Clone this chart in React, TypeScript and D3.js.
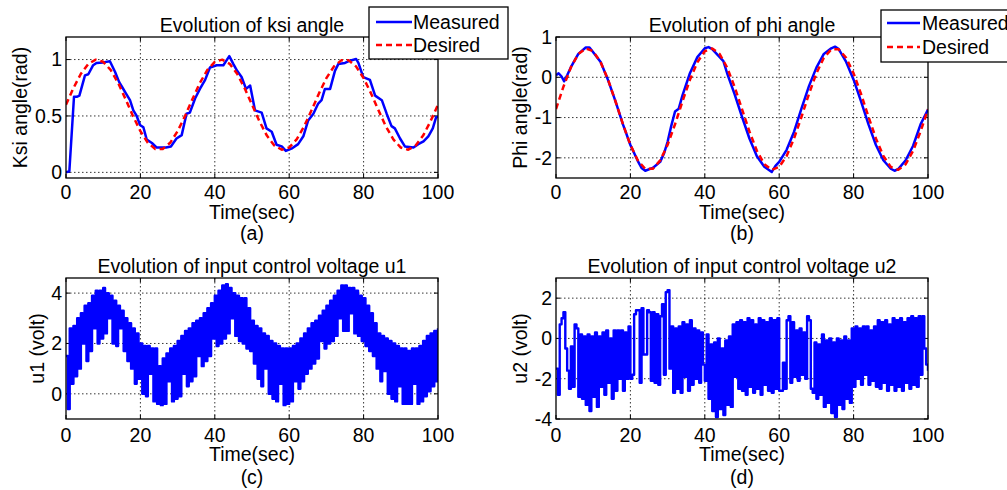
import React from "react";
import * as d3 from "d3";

const timeTicks = [0, 20, 40, 60, 80, 100];

// desired ksi angle, one value every 2 s from t = 0
const ksiDesired = [
  0.6, 0.747, 0.874, 0.962, 0.999, 0.98, 0.908, 0.793, 0.65, 0.5,
  0.365, 0.262, 0.207, 0.207, 0.262, 0.365, 0.5, 0.65, 0.793, 0.908,
  0.98, 0.999, 0.962, 0.874, 0.747, 0.6, 0.453, 0.326, 0.238, 0.201,
  0.22, 0.292, 0.407, 0.55, 0.7, 0.835, 0.938, 0.993, 0.993, 0.938,
  0.835, 0.7, 0.55, 0.407, 0.292, 0.22, 0.201, 0.238, 0.326, 0.453, 0.6
];

// measured ksi angle, [t, rad]
const ksiMeasured: [number, number][] = [
  [0, 0], [0.9, 0.01], [2.15, 0.67], [2.9, 0.67], [3.6, 0.68], [5.1, 0.86], [6, 0.87],
  [7.3, 0.95], [8.2, 0.97], [10, 0.975], [11.8, 0.985], [13.2, 0.89], [14.3, 0.8],
  [15.2, 0.75], [16.1, 0.7], [17.2, 0.64], [18.1, 0.55], [19, 0.5], [19.9, 0.42],
  [20.8, 0.4], [21.7, 0.29], [23.1, 0.26], [24.4, 0.22], [26.9, 0.22], [28.2, 0.23],
  [29.7, 0.3], [31.1, 0.33], [32.4, 0.52], [33.3, 0.53], [34.7, 0.655], [36, 0.74],
  [37.4, 0.82], [38.7, 0.93], [40.5, 0.95], [42.3, 0.95], [43.9, 1.03], [45, 0.96],
  [46, 0.9], [47.2, 0.845], [48.4, 0.74], [49.5, 0.77], [50.8, 0.55], [52.6, 0.53],
  [53.9, 0.39], [55.3, 0.36], [56.6, 0.245], [58, 0.23], [59.1, 0.19], [60.6, 0.21],
  [62.4, 0.25], [63.8, 0.32], [65.1, 0.46], [66.5, 0.52], [67.8, 0.61], [68.7, 0.64],
  [69.6, 0.74], [71, 0.74], [72.3, 0.9], [73.2, 0.96], [75, 0.97], [76.3, 0.99],
  [78, 1.005], [78.6, 0.97], [79.9, 0.845], [81.7, 0.82], [83.1, 0.68], [84.9, 0.64],
  [86.2, 0.52], [87.5, 0.41], [88.4, 0.39], [89.8, 0.3], [91.1, 0.23], [93.4, 0.22],
  [94.7, 0.25], [96.1, 0.275], [97.4, 0.32], [98.6, 0.39], [99.5, 0.49], [100, 0.49]
];

// desired phi angle, one value every 2 s from t = 0
const phiDesired = [
  -0.79, -0.234, 0.244, 0.577, 0.717, 0.646, 0.374, -0.062, -0.601, -1.166,
  -1.678, -2.064, -2.273, -2.273, -2.064, -1.678, -1.166, -0.601, -0.062, 0.374,
  0.646, 0.717, 0.577, 0.244, -0.234, -0.79, -1.346, -1.824, -2.157, -2.297,
  -2.226, -1.954, -1.518, -0.979, -0.414, 0.098, 0.484, 0.693, 0.693, 0.484,
  0.098, -0.414, -0.979, -1.518, -1.954, -2.226, -2.297, -2.157, -1.824, -1.346, -0.79
];

// measured phi angle, [t, rad]
const phiMeasured: [number, number][] = [
  [0, 0.05], [0.7, 0.1], [1.5, 0.02], [2.2, -0.1], [3, 0.05], [4, 0.25], [6, 0.58],
  [8, 0.74], [9, 0.74], [10, 0.62], [12, 0.38], [14, -0.07], [16, -0.6], [18, -1.17],
  [20, -1.68], [22, -2.08], [23, -2.25], [24, -2.32], [26, -2.25], [28, -2.1],
  [29, -1.9], [30, -1.6], [31, -1.2], [32, -0.85], [33, -0.78], [34, -0.45], [36, 0.1],
  [38, 0.5], [40, 0.72], [41, 0.75], [42, 0.7], [44, 0.5], [45, 0.4], [46, 0.1],
  [48, -0.42], [50, -0.98], [52, -1.52], [54, -1.96], [56, -2.22], [58, -2.35],
  [59, -2.2], [60, -2.1], [62, -1.8], [64, -1.35], [66, -0.77], [68, -0.22], [70, 0.24],
  [72, 0.58], [74, 0.72], [75, 0.76], [76, 0.7], [78, 0.38], [80, -0.06], [82, -0.6],
  [84, -1.17], [86, -1.68], [88, -2.06], [90, -2.27], [91, -2.32], [92, -2.28],
  [94, -2.06], [96, -1.7], [98, -1.17], [100, -0.8]
];

// control voltage u1, one value every 0.5 s (held)
const u1 = [
  1.5, -0.6, 2.6, 0.4, 2.7, 0.7, 3.0, 1.0, 3.2, 2.0, 3.5, 1.3, 3.6, 1.7, 3.9, 2.6, 4.1, 2.0, 4.1, 2.2,
  4.2, 2.4, 4.0, 3.0, 3.9, 2.0, 3.7, 1.9, 3.5, 2.6, 3.3, 1.7, 3.0, 1.3, 2.8, 1.0, 2.6, 0.4, 2.4, 0.6,
  2.0, 0.0, 1.9, -0.1, 1.9, 0.8, 1.8, -0.3, 1.8, -0.4, 1.1, -0.45, 1.4, -0.4, 1.6, 0.5, 1.8, -0.3, 1.9, -0.2,
  2.1, -0.1, 2.3, 0.8, 2.5, 0.3, 2.6, 0.5, 2.8, 0.7, 2.9, 1.5, 3.0, 1.1, 3.2, 1.3, 3.4, 1.5, 3.6, 2.2,
  3.9, 1.9, 4.1, 2.0, 4.3, 2.2, 4.35, 2.4, 4.2, 3.0, 4.0, 2.3, 3.9, 2.1, 3.8, 2.0, 3.8, 1.8, 3.4, 1.7,
  2.9, 1.2, 2.7, 0.6, 2.6, 0.3, 2.4, 1.0, 2.3, 0.0, 2.1, -0.2, 2.0, -0.3, 1.9, 0.4, 1.8, -0.45, 1.8, -0.4,
  1.8, -0.3, 1.9, 0.5, 2.0, 0.2, 2.2, 0.5, 2.4, 0.8, 2.6, 1.0, 2.8, 1.2, 2.9, 1.4, 3.1, 2.1, 3.3, 1.8,
  3.5, 2.0, 3.7, 2.1, 3.9, 2.3, 4.1, 3.0, 4.3, 2.5, 4.3, 2.5, 4.2, 3.2, 4.2, 2.4, 4.1, 2.3, 3.9, 2.1,
  3.8, 1.9, 3.5, 1.7, 3.2, 1.5, 2.8, 1.0, 2.4, 0.5, 2.3, 0.9, 2.2, 0.0, 2.1, -0.2, 2.0, -0.3, 1.9, 0.3,
  1.8, -0.4, 1.8, -0.4, 1.7, -0.4, 1.8, 0.4, 1.8, -0.4, 1.9, -0.3, 2.1, -0.1, 2.3, 0.1, 2.4, 0.3, 2.5, 0.5,
  2.6
];

// control voltage u2, one value every 0.5 s (held)
const u2 = [
  -1.5, -2.8, 0.7, 1.0, 1.3, -0.5, -1.6, -2.5, -0.4, -2.4, 0.7, 0.5, -2.9, 0.2, -3.0, 0.1, -3.3, 0.2, -3.6, 0.1,
  -2.9, 0.3, -3.4, 0.1, -2.4, 0.3, -2.8, 0.4, -2.2, 0.0, -3.0, 0.4, -2.6, 0.4, -2.0, 0.4, -2.6, 0.3, -2.0, 0.6,
  -2.0, -1.8, 1.2, 1.4, 1.4, -2.2, 1.5, -0.8, -0.8, 1.4, 1.3, -2.1, 1.3, -2.2, 1.2, -2.3, 1.1, 1.7, -1.8, 2.3,
  2.4, -1.5, 0.6, -2.7, 0.5, -2.5, 0.6, -2.7, 0.8, -1.9, 0.7, -2.6, 0.9, -2.3, 0.5, -2.0, 0.4, -2.2, 0.3, -1.3,
  -2.1, 0.2, -3.0, -0.3, -3.6, -0.2, -3.9, 0.0, -3.5, -0.5, -3.8, -0.1, -3.3, 0.1, -3.4, 0.7, -1.9, 0.8, -2.5, 0.9,
  -2.6, 0.8, -2.8, 1.0, -2.4, 0.9, -2.7, 0.7, -2.5, 1.0, -2.8, 0.9, -2.3, 0.8, -2.6, 1.0, -2.7, 0.9, -2.5, 1.0,
  -2.6, -2.6, -1.2, -2.5, 0.9, 1.1, -2.2, 0.8, -1.9, 0.4, -2.1, 0.5, -1.8, 0.3, -2.0, 1.1, 0.9, -2.5, -2.7, -0.2,
  -3.0, -0.3, -2.8, 0.2, -3.4, -0.1, -3.2, 0.0, -3.7, -0.2, -3.9, 0.0, -3.3, -0.1, -3.5, 0.1, -3.0, -0.1, -3.2, 0.5,
  -2.4, 0.6, -2.0, 0.5, -2.3, 0.6, -1.8, 0.6, -2.3, 0.4, -2.1, 0.6, -2.4, 0.9, -2.5, 0.8, -2.2, 0.9, -2.6, 0.7,
  -2.3, 1.0, -2.6, 0.9, -2.4, 1.0, -2.6, 0.8, -2.2, 1.0, -2.5, 1.1, -2.3, 1.0, -2.4, 1.1, -1.8, 1.1, -0.5, -1.3,
  -1.6
];

const FONT = "'Liberation Sans', Arial, Helvetica, sans-serif";
const FS = 19.5;
const BLUE = "#0000ff";
const RED = "#ff0000";

const every = (vals: number[], step: number): [number, number][] =>
  vals.map((v, i) => [i * step, v]);

type Series = {
  pts: [number, number][];
  color: string;
  dash?: string;
  width: number;
  step?: boolean;
};

type PanelProps = {
  id: string;
  left: number;
  right: number;
  top: number;
  bottom: number;
  yDomain: [number, number];
  yTicks: number[];
  series: Series[];
  title: string;
  yLabel: string;
  yLabelX: number;
  letter: string;
  tickBase: number;
  timeBase: number;
  letterBase: number;
};

function Panel(p: PanelProps) {
  const x = d3.scaleLinear().domain([0, 100]).range([p.left, p.right]);
  const y = d3.scaleLinear().domain(p.yDomain).range([p.bottom, p.top]);
  const cx = (p.left + p.right) / 2;
  const cy = (p.top + p.bottom) / 2;
  const tl = 4;

  return (
    <g>
      <defs>
        <clipPath id={`clip-${p.id}`}>
          <rect x={p.left} y={p.top} width={p.right - p.left} height={p.bottom - p.top} />
        </clipPath>
      </defs>
      <rect x={p.left} y={p.top} width={p.right - p.left} height={p.bottom - p.top} fill="#fff" />
      {/* grid */}
      {timeTicks.slice(1, -1).map(t => (
        <line key={"gx" + t} x1={x(t)} x2={x(t)} y1={p.top} y2={p.bottom}
          stroke="#000" strokeWidth={0.8} strokeDasharray="1.5,2.5" />
      ))}
      {p.yTicks.filter(v => y(v) > p.top + 1 && y(v) < p.bottom - 1).map(v => (
        <line key={"gy" + v} x1={p.left} x2={p.right} y1={y(v)} y2={y(v)}
          stroke="#000" strokeWidth={0.8} strokeDasharray="1.5,2.5" />
      ))}
      {/* ticks */}
      {timeTicks.map(t => (
        <g key={"tx" + t}>
          <line x1={x(t)} x2={x(t)} y1={p.bottom} y2={p.bottom - tl} stroke="#000" />
          <line x1={x(t)} x2={x(t)} y1={p.top} y2={p.top + tl} stroke="#000" />
          <text x={x(t)} y={p.tickBase} textAnchor="middle" fontSize={FS}>{t}</text>
        </g>
      ))}
      {p.yTicks.map(v => (
        <g key={"ty" + v}>
          <line x1={p.left} x2={p.left + tl} y1={y(v)} y2={y(v)} stroke="#000" />
          <line x1={p.right} x2={p.right - tl} y1={y(v)} y2={y(v)} stroke="#000" />
          <text x={p.left - 4} y={y(v)} dy="0.35em" textAnchor="end" fontSize={FS}>{String(v)}</text>
        </g>
      ))}
      {/* data */}
      <g clipPath={`url(#clip-${p.id})`}>
        {p.series.map((s, i) => {
          const line = d3
            .line<[number, number]>()
            .x(d => x(d[0]))
            .y(d => y(d[1]))
            .curve(s.step ? d3.curveStepAfter : d3.curveLinear);
          return (
            <path key={i} d={line(s.pts) || ""} fill="none" stroke={s.color}
              strokeWidth={s.width} strokeDasharray={s.dash} strokeLinejoin="round" />
          );
        })}
      </g>
      <rect x={p.left} y={p.top} width={p.right - p.left} height={p.bottom - p.top}
        fill="none" stroke="#000" strokeWidth={1.3} />
      {/* labels */}
      <text x={cx} y={p.top - 5} textAnchor="middle" fontSize={FS}>{p.title}</text>
      <text x={cx} y={p.timeBase} textAnchor="middle" fontSize={FS}>Time(sec)</text>
      <text x={cx} y={p.letterBase} textAnchor="middle" fontSize={FS}>{p.letter}</text>
      <text transform={`translate(${p.yLabelX},${cy}) rotate(-90)`} textAnchor="middle" fontSize={FS}>
        {p.yLabel}
      </text>
    </g>
  );
}

function Legend({ x0, x1, y0, y1, lineX0, lineX1, textX, rowY }: {
  x0: number; x1: number; y0: number; y1: number;
  lineX0: number; lineX1: number; textX: number; rowY: [number, number];
}) {
  return (
    <g>
      <rect x={x0} y={y0} width={x1 - x0} height={y1 - y0} fill="#fff" stroke="#000" strokeWidth={1.3} />
      <line x1={lineX0} x2={lineX1} y1={rowY[0]} y2={rowY[0]} stroke={BLUE} strokeWidth={2.5} />
      <text x={textX} y={rowY[0]} dy="0.35em" fontSize={FS}>Measured</text>
      <line x1={lineX0} x2={lineX1} y1={rowY[1]} y2={rowY[1]} stroke={RED} strokeWidth={2.5} strokeDasharray="6,4" />
      <text x={textX} y={rowY[1]} dy="0.35em" fontSize={FS}>Desired</text>
    </g>
  );
}

export default function App() {
  const measured = (pts: [number, number][]): Series => ({ pts, color: BLUE, width: 2.5 });
  const desired = (pts: [number, number][]): Series => ({ pts, color: RED, width: 2.5, dash: "6,4" });

  return (
    <svg width={1007} height={490} style={{ position: "absolute", left: 0, top: 0, fontFamily: FONT }}>
      <rect width={1007} height={490} fill="#fff" />
      <Panel id="a" left={66} right={438} top={37} bottom={178}
        yDomain={[-0.05, 1.2]} yTicks={[0, 0.5, 1]}
        series={[measured(ksiMeasured), desired(every(ksiDesired, 2))]}
        title="Evolution of ksi angle" yLabel="Ksi angle(rad)" yLabelX={27}
        letter="(a)" tickBase={199} timeBase={219} letterBase={240} />
      <Panel id="b" left={556} right={928} top={37} bottom={178}
        yDomain={[-2.5, 1]} yTicks={[-2, -1, 0, 1]}
        series={[measured(phiMeasured), desired(every(phiDesired, 2))]}
        title="Evolution of phi angle" yLabel="Phi angle(rad)" yLabelX={527}
        letter="(b)" tickBase={199} timeBase={219} letterBase={240} />
      <Panel id="c" left={66} right={438} top={278} bottom={419}
        yDomain={[-1, 4.6]} yTicks={[0, 2, 4]}
        series={[{ pts: every(u1, 0.5), color: BLUE, width: 2.4, step: true }]}
        title="Evolution of input control voltage u1" yLabel="u1 (volt)" yLabelX={44}
        letter="(c)" tickBase={442} timeBase={461} letterBase={484} />
      <Panel id="d" left={556} right={928} top={278} bottom={419}
        yDomain={[-4, 3]} yTicks={[-4, -2, 0, 2]}
        series={[{ pts: every(u2, 0.5), color: BLUE, width: 2.4, step: true }]}
        title="Evolution of input control voltage u2" yLabel="u2 (volt)" yLabelX={527}
        letter="(d)" tickBase={442} timeBase={461} letterBase={484} />
      <Legend x0={369} x1={508} y0={7} y1={59} lineX0={376} lineX1={412} textX={413} rowY={[22, 45]} />
      <Legend x0={881} x1={1016} y0={10} y1={62} lineX0={887} lineX1={920} textX={922} rowY={[23, 47]} />
    </svg>
  );
}
